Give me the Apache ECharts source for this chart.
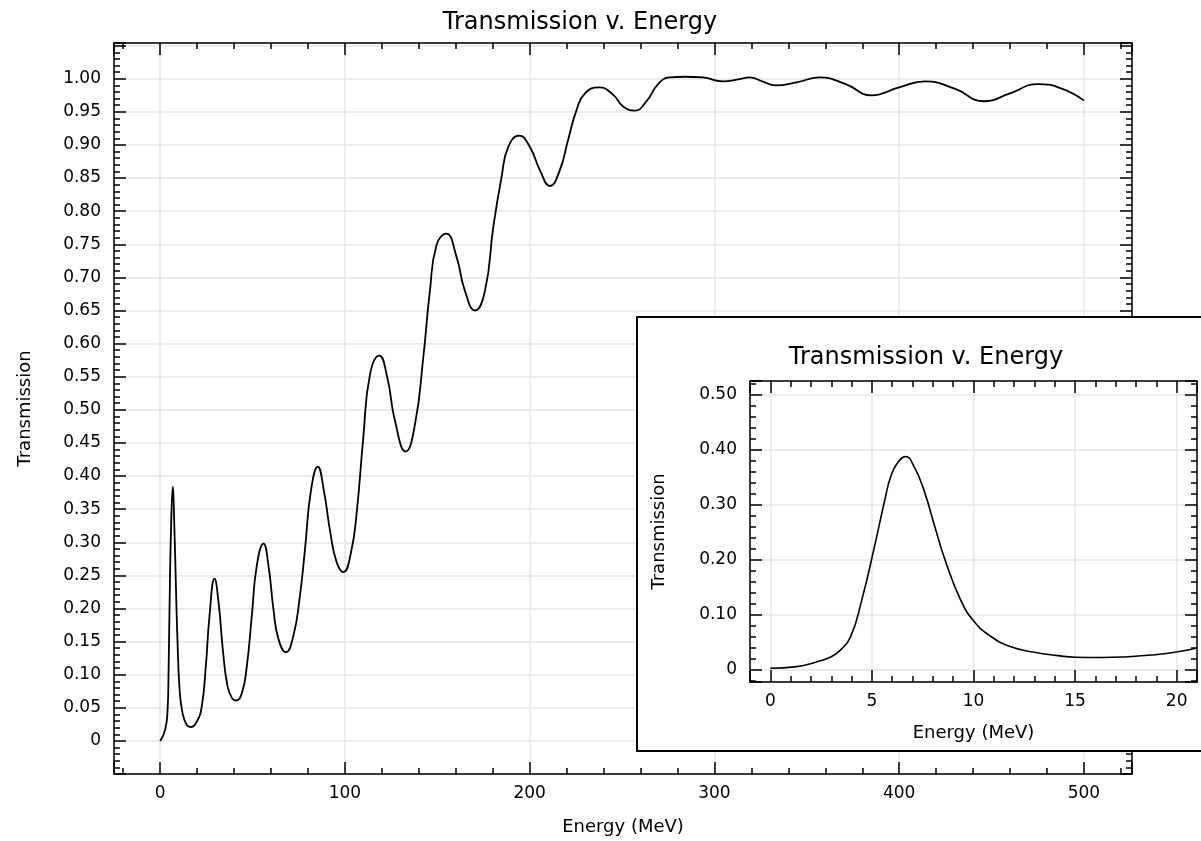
<!DOCTYPE html>
<html>
<head>
<meta charset="utf-8">
<script src="https://cdn.jsdelivr.net/npm/echarts@6/dist/echarts.min.js"></script>
<style>
  html, body { margin: 0; padding: 0; background: #fff; }
  #chart { width: 1201px; height: 841px; }
</style>
</head>
<body>
<div id="chart"></div>
<script>
// main curve
var energyMeV = [0, 2.7, 4.0, 4.5, 5.05, 5.95, 6.85, 7.6, 8.5, 9.4, 10.5, 12.1, 14.4, 16.6, 19.8, 22.5, 24.7, 26.7, 29.4,
  31.6, 33.9, 36.4, 38.8, 41.1, 44.2, 46.9, 49.6, 52.3, 55.9, 58.6, 61.3, 64.0, 68.1, 72.1, 75.4, 78.4, 81.5, 85.3,
  88.7, 92.0, 95.5, 99.2, 103.3, 106.4, 109.9, 113.6, 118.6, 122.9, 127.1, 132.9, 137.9, 142.4, 146.0, 149.6, 154.8,
  160.4, 164.9, 170.4, 175.8, 180.3, 184.8, 188.4, 194.3, 200.1, 205.5, 210.9, 216.3, 220.8, 225.4, 229.9, 237.6,
  245.1, 250.6, 256.9, 263.2, 269.5, 275.8, 284, 293.8, 304.7, 313.7, 319, 326, 333, 345, 357, 371, 385, 400, 414,
  430, 446, 460, 475, 488, 500];
var transmission = [0, 0.017, 0.047, 0.098, 0.20, 0.33, 0.384, 0.33, 0.235, 0.148, 0.078, 0.042, 0.024, 0.021, 0.029,
  0.052, 0.113, 0.189, 0.245, 0.209, 0.138, 0.083, 0.065, 0.061, 0.072, 0.113, 0.189, 0.265, 0.298, 0.265, 0.199,
  0.154, 0.134, 0.159, 0.214, 0.29, 0.376, 0.414, 0.376, 0.316, 0.27, 0.255, 0.285, 0.346, 0.457, 0.554, 0.582,
  0.549, 0.483, 0.437, 0.478, 0.579, 0.68, 0.749, 0.766, 0.731, 0.68, 0.65, 0.68, 0.776, 0.852, 0.897, 0.914, 0.897,
  0.862, 0.838, 0.862, 0.908, 0.953, 0.978, 0.987, 0.976, 0.958, 0.952, 0.966, 0.992, 1.002, 1.003, 1.002, 0.996,
  0.9995, 1.002, 0.996, 0.99, 0.995, 1.002, 0.992, 0.975, 0.987, 0.996, 0.985, 0.966, 0.978, 0.992, 0.985, 0.967];

// inset (zoom on the first peak)
var insetEnergy = [0, 1.3, 2.3, 3.0, 3.45, 3.95, 4.5, 5.1, 5.67, 5.92, 6.25, 6.66, 7.07, 7.56, 8.1, 8.6, 9.37, 10.03,
  10.85, 11.84, 13.0, 14.14, 15.0, 16.3, 17.6, 18.75, 20.06, 21];
var insetTransmission = [0.003, 0.006, 0.015, 0.024, 0.036, 0.06, 0.127, 0.22, 0.315, 0.351, 0.376, 0.388, 0.37, 0.327,
  0.26, 0.2, 0.127, 0.088, 0.061, 0.042, 0.032, 0.026, 0.023, 0.0225, 0.024, 0.027, 0.033, 0.04];

var titleText = 'Transmission v. Energy';
var xName = 'Energy (MeV)';
var yName = 'Transmission';

var FONT = '"DejaVu Sans", "Lucida Grande", sans-serif';
var black = { color: '#000', width: 1.5 };

function pairs(xs, ys) {
  return xs.map(function (x, i) { return [x, ys[i]]; });
}

// one side of the boxed frame
function frameAxis(o) {
  return Object.assign({
    type: 'value',
    axisLine: { show: true, onZero: false, lineStyle: black },
    axisTick: { show: true, inside: true, length: 12, lineStyle: black },
    minorTick: { show: true, splitNumber: 5, length: 6, lineStyle: black },
    splitLine: { show: false },
    axisLabel: { show: false }
  }, o);
}

function label(fmt, margin) {
  return {
    show: true, margin: margin, fontSize: 17, fontFamily: FONT, color: '#000', formatter: fmt
  };
}
var grid = { show: true, lineStyle: { color: '#e6e6e6', width: 1.5 } };
var nameStyle = { fontSize: 18, fontFamily: FONT, color: '#000' };

function xFmt(lo, hi) {
  return function (v) { return (v < lo - 1e-9 || v > hi + 1e-9) ? '' : String(Math.round(v)); };
}
function yFmt(lo, hi) {
  return function (v) {
    if (v < lo - 1e-9 || v > hi + 1e-9) return '';
    return Math.abs(v) < 1e-9 ? '0' : v.toFixed(2);
  };
}

var myChart = echarts.init(document.getElementById('chart'), null, { renderer: 'canvas' });

var option = {
  animation: false,
  backgroundColor: '#fff',
  grid: [
    { left: 114, top: 43, width: 1018, height: 734 },
    { left: 750, top: 381, width: 447, height: 301 }
  ],
  xAxis: [
    frameAxis({ gridIndex: 0, position: 'bottom', min: -25, max: 526, minInterval: 100, maxInterval: 100,
      splitLine: grid, axisLabel: label(xFmt(0, 500), 11),
      name: xName, nameLocation: 'middle', nameGap: 44, nameTextStyle: nameStyle }),
    frameAxis({ gridIndex: 0, position: 'top', min: -25, max: 526, minInterval: 100, maxInterval: 100 }),
    frameAxis({ gridIndex: 1, position: 'bottom', min: -1, max: 21, minInterval: 5, maxInterval: 5, z: 10,
      splitLine: grid, axisLabel: label(xFmt(0, 20), 11),
      name: xName, nameLocation: 'middle', nameGap: 42, nameTextStyle: nameStyle }),
    frameAxis({ gridIndex: 1, position: 'top', min: -1, max: 21, minInterval: 5, maxInterval: 5, z: 10 })
  ],
  yAxis: [
    frameAxis({ gridIndex: 0, position: 'left', min: -0.05, max: 1.054, minInterval: 0.05, maxInterval: 0.05,
      splitLine: grid, axisLabel: label(yFmt(0, 1), 13),
      name: yName, nameLocation: 'middle', nameGap: 80, nameTextStyle: nameStyle }),
    frameAxis({ gridIndex: 0, position: 'right', min: -0.05, max: 1.054, minInterval: 0.05, maxInterval: 0.05 }),
    frameAxis({ gridIndex: 1, position: 'left', min: -0.022, max: 0.5255, minInterval: 0.1, maxInterval: 0.1, z: 10,
      splitLine: grid, axisLabel: label(yFmt(0, 0.5), 13),
      name: yName, nameLocation: 'middle', nameGap: 82, nameTextStyle: nameStyle }),
    frameAxis({ gridIndex: 1, position: 'right', min: -0.022, max: 0.5255, minInterval: 0.1, maxInterval: 0.1, z: 10 })
  ],
  graphic: [
    // inset panel, runs off the right edge of the picture
    { type: 'rect', z: 5, shape: { x: 637, y: 317, width: 700, height: 434 },
      style: { fill: '#fff', stroke: '#000', lineWidth: 2 } },
    { type: 'text', z: 20, x: 580, y: 23,
      style: { text: titleText, font: '24px ' + FONT, fill: '#000', align: 'center', verticalAlign: 'middle' } },
    { type: 'text', z: 20, x: 926, y: 358,
      style: { text: titleText, font: '24px ' + FONT, fill: '#000', align: 'center', verticalAlign: 'middle' } }
  ],
  series: [
    {
      type: 'line', xAxisIndex: 0, yAxisIndex: 0, z: 2,
      data: pairs(energyMeV, transmission),
      smooth: 0.5, showSymbol: false,
      lineStyle: { color: '#000', width: 1.8 }
    },
    {
      type: 'line', xAxisIndex: 2, yAxisIndex: 2, z: 12,
      data: pairs(insetEnergy, insetTransmission),
      smooth: 0.5, showSymbol: false,
      lineStyle: { color: '#000', width: 1.6 }
    }
  ]
};

myChart.setOption(option);
window.addEventListener('resize', myChart.resize);
</script>
</body>
</html>
